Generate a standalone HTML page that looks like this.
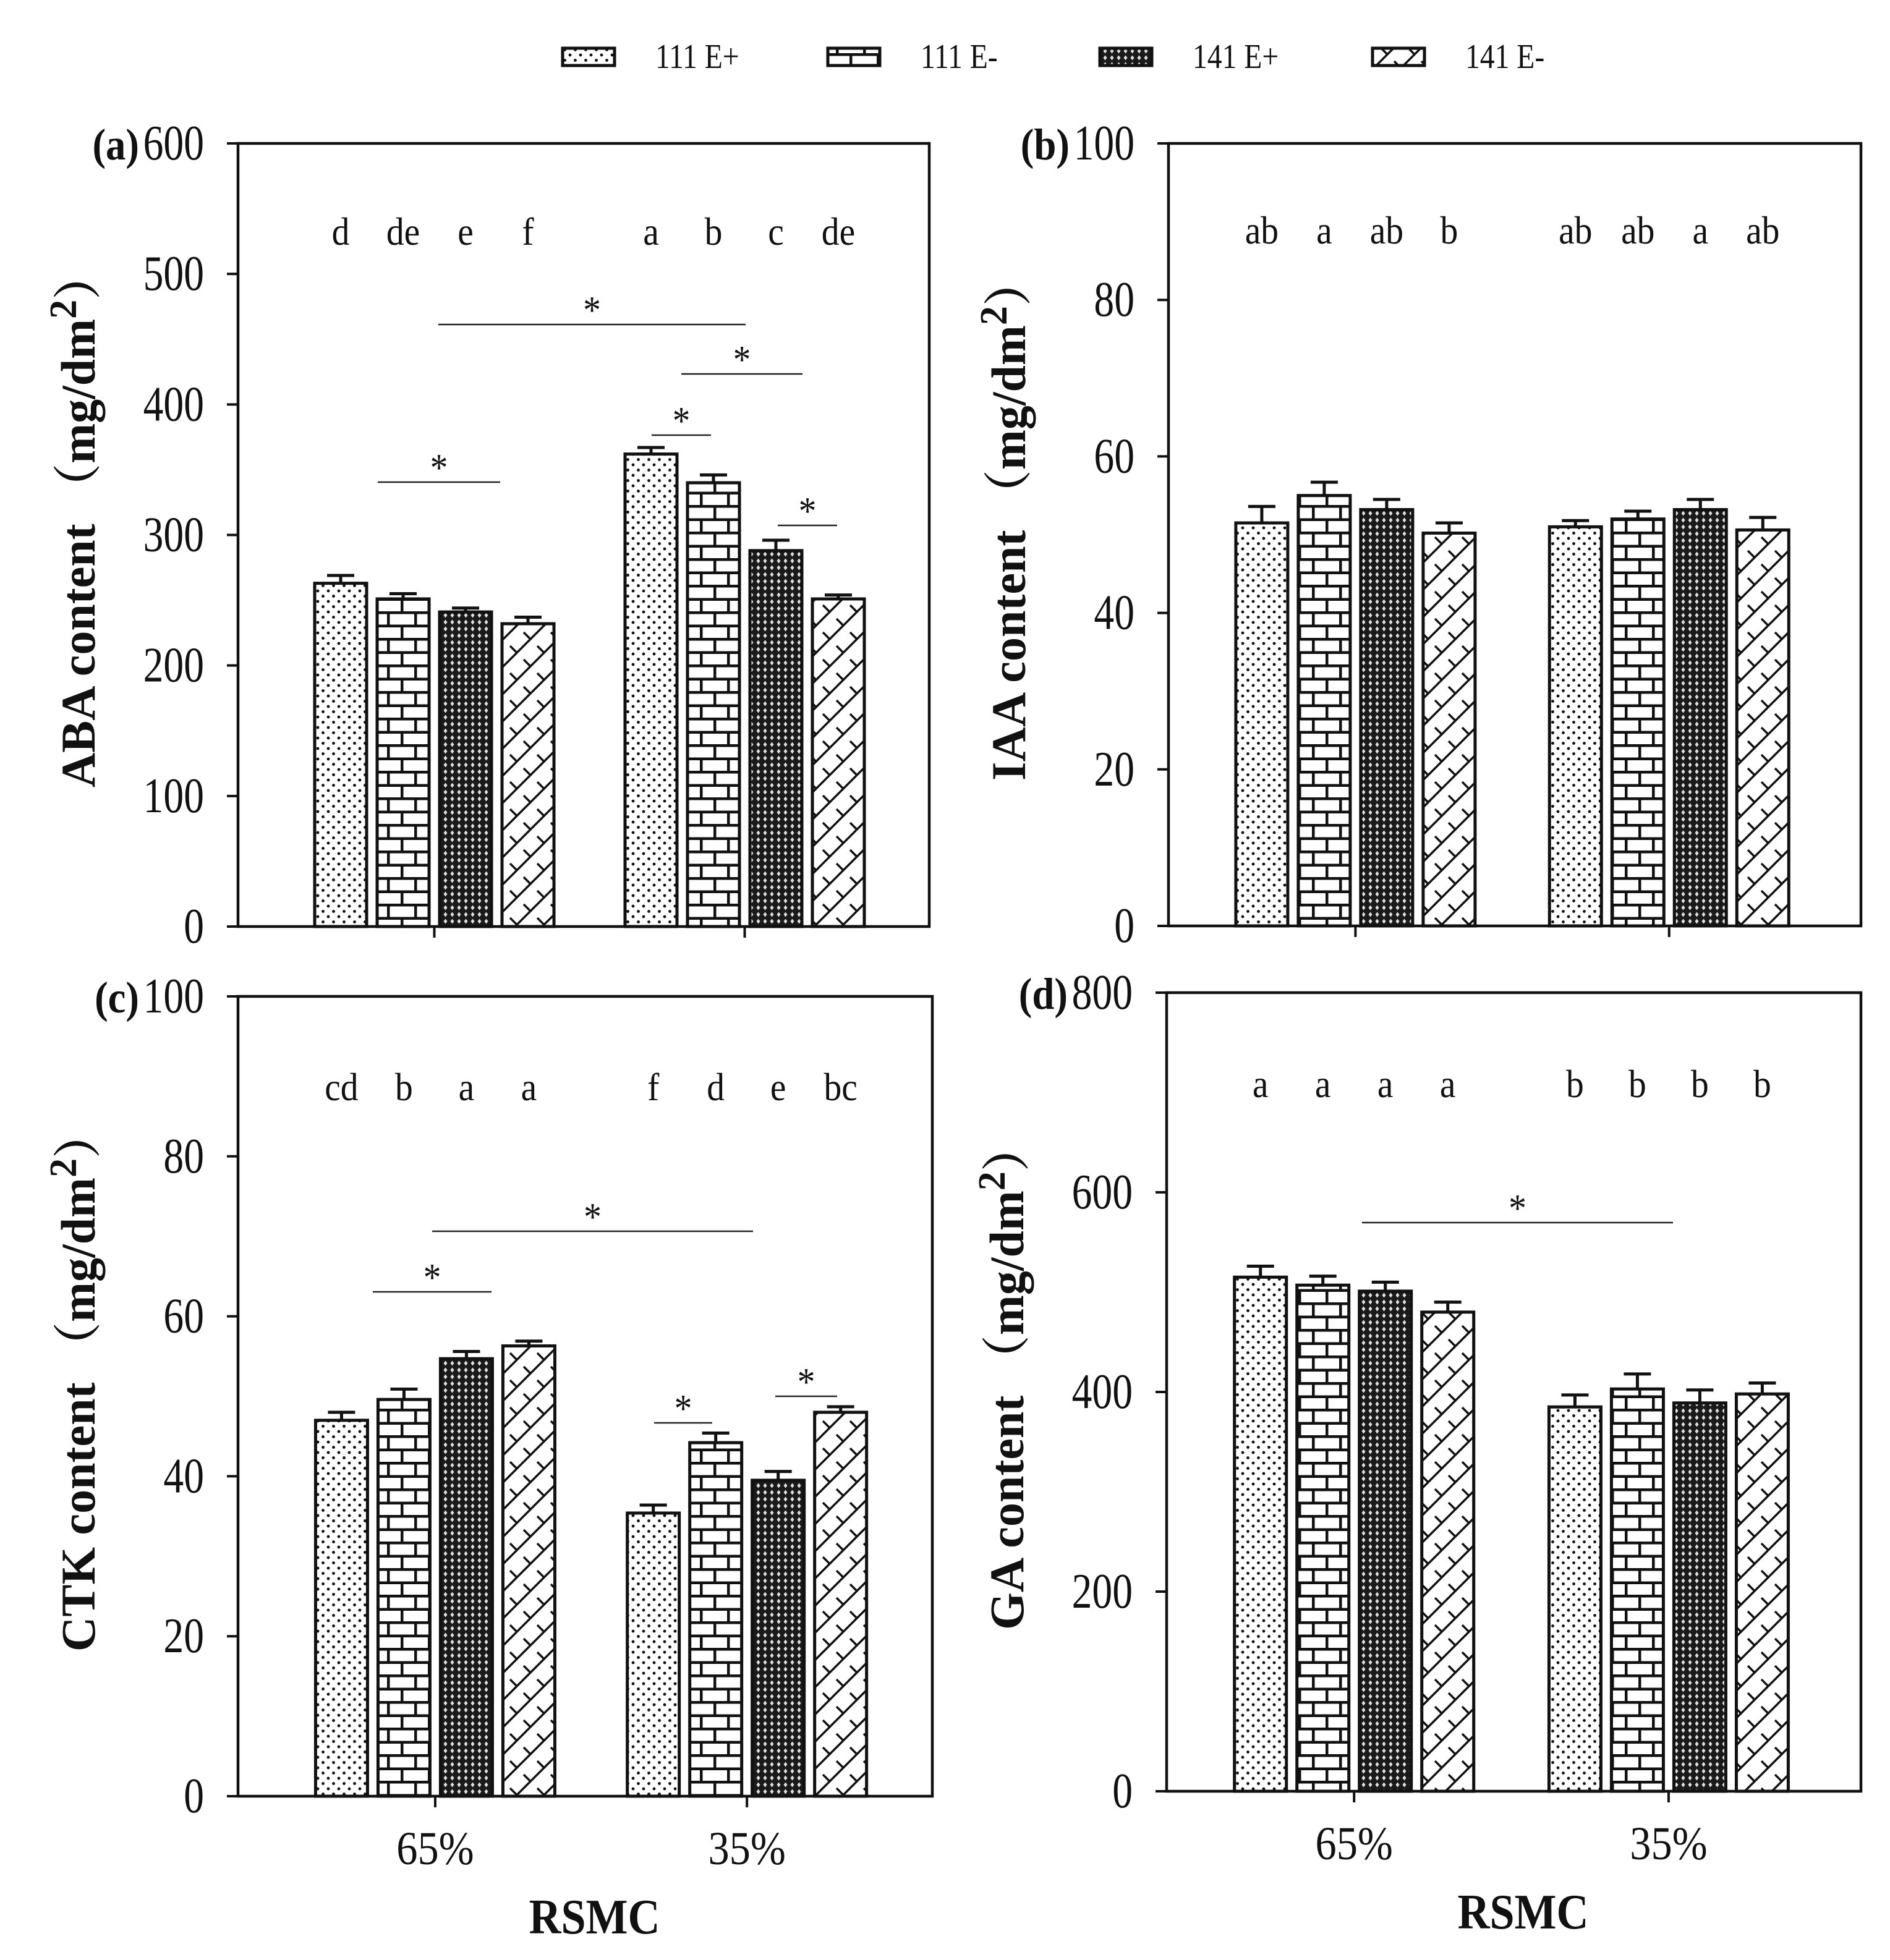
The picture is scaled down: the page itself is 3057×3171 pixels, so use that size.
<!DOCTYPE html>
<html><head><meta charset="utf-8"><style>
html,body{margin:0;padding:0;background:#fff;}
svg{display:block;}
text{font-family:"Liberation Serif","Noto Serif CJK SC",serif;fill:#111;}
</style></head><body>
<svg id="fig" width="3057" height="3171" viewBox="0 0 3057 3171" xmlns="http://www.w3.org/2000/svg">
<defs>
<pattern id="pDots" patternUnits="userSpaceOnUse" width="17" height="17">
<rect width="17" height="17" fill="#fff"/><circle cx="4" cy="4" r="2.4" fill="#111"/><circle cx="12.5" cy="12.5" r="2.4" fill="#111"/>
</pattern>
<pattern id="pBrick" patternUnits="userSpaceOnUse" width="44" height="43">
<rect width="44" height="43" fill="#fff"/>
<rect x="0" y="0" width="44" height="4.5" fill="#111"/><rect x="0" y="21.5" width="44" height="4.5" fill="#111"/>
<rect x="10" y="0" width="4.5" height="22" fill="#111"/><rect x="32" y="21.5" width="4.5" height="22" fill="#111"/>
</pattern>
<pattern id="pCross" patternUnits="userSpaceOnUse" width="11" height="11">
<rect width="11" height="11" fill="#1a1a1a"/><path d="M5.5 1.5 L8.5 5.5 L5.5 9.5 L2.5 5.5 Z" fill="#e0e0e0"/>
</pattern>
<pattern id="pZig" patternUnits="userSpaceOnUse" width="44" height="44">
<rect width="44" height="44" fill="#fff"/>
<path d="M0 44 L44 0 M-22 22 L22 -22 M22 66 L66 22" stroke="#111" stroke-width="3.5" fill="none"/>
<path d="M11 11 L22 22 M33 33 L44 44 M-11 33 L0 44" stroke="#111" stroke-width="3.5" fill="none"/>
</pattern>
</defs>
</svg>
<script>
const categories = ['65%', '35%'];
const seriesNames = ['111 E+', '111 E-', '141 E+', '141 E-'];
const abaMeans65 = [263, 251, 241, 232];
const abaMeans35 = [362, 340, 288, 251];
const abaErr65 = [6, 4, 3, 5];
const abaErr35 = [5, 6, 8, 3];
const abaLetters65 = ['d', 'de', 'e', 'f'];
const abaLetters35 = ['a', 'b', 'c', 'de'];
const iaaMeans65 = [51.5, 55.0, 53.2, 50.2];
const iaaMeans35 = [51.0, 52.0, 53.2, 50.6];
const iaaErr65 = [2.1, 1.7, 1.3, 1.3];
const iaaErr35 = [0.8, 1.0, 1.3, 1.6];
const iaaLetters65 = ['ab', 'a', 'ab', 'b'];
const iaaLetters35 = ['ab', 'ab', 'a', 'ab'];
const ctkMeans65 = [47.0, 49.6, 54.7, 56.3];
const ctkMeans35 = [35.4, 44.2, 39.5, 48.0];
const ctkErr65 = [1.0, 1.3, 0.9, 0.6];
const ctkErr35 = [1.0, 1.2, 1.1, 0.7];
const ctkLetters65 = ['cd', 'b', 'a', 'a'];
const ctkLetters35 = ['f', 'd', 'e', 'bc'];
const gaMeans65 = [515, 507, 501, 480];
const gaMeans35 = [385, 403, 389, 398];
const gaErr65 = [11, 9, 9, 10];
const gaErr35 = [12, 15, 13, 11];
const gaLetters65 = ['a', 'a', 'a', 'a'];
const gaLetters35 = ['b', 'b', 'b', 'b'];
const abaTicks = [0, 100, 200, 300, 400, 500, 600];
const iaaTicks = [0, 20, 40, 60, 80, 100];
const ctkTicks = [0, 20, 40, 60, 80, 100];
const gaTicks = [0, 200, 400, 600, 800];

const NS = 'http://www.w3.org/2000/svg';
const svg = document.getElementById('fig');
const patterns = ['url(#pDots)', 'url(#pBrick)', 'url(#pCross)', 'url(#pZig)'];
const SX = 0.9;

function mk(tag, attrs, parent) {
  const e = document.createElementNS(NS, tag);
  for (const k in attrs) e.setAttribute(k, attrs[k]);
  (parent || svg).appendChild(e);
  return e;
}
function txt(parent, x, y, s, size, anchor, bold, sx) {
  const t = mk('text', {transform: `translate(${x},${y}) scale(${sx || SX},1)`, 'font-size': size, 'text-anchor': anchor || 'middle'}, parent);
  if (bold) t.setAttribute('font-weight', 'bold');
  t.textContent = s;
  return t;
}

const panels = [
  {id: 'aba', label: '(a)', name: 'ABA', x0: 385, x1: 1503, y0: 232, y1: 1499, max: 600, ticks: abaTicks, fr: [0.284, 0.733],
   m: [abaMeans65, abaMeans35], e: [abaErr65, abaErr35], l: [abaLetters65, abaLetters35], letY: 396, xlab: false,
   sig: [[611, 809, 780], [709, 1206, 525], [1102, 1298, 605], [1054, 1150, 704], [1258, 1354, 850]]},
  {id: 'iaa', label: '(b)', name: 'IAA', x0: 1890, x1: 3010, y0: 232, y1: 1498, max: 100, ticks: iaaTicks, fr: [0.27, 0.723],
   m: [iaaMeans65, iaaMeans35], e: [iaaErr65, iaaErr35], l: [iaaLetters65, iaaLetters35], letY: 394, xlab: false, sig: []},
  {id: 'ctk', label: '(c)', name: 'CTK', x0: 385, x1: 1508, y0: 1612, y1: 2906, max: 100, ticks: ctkTicks, fr: [0.284, 0.733],
   m: [ctkMeans65, ctkMeans35], e: [ctkErr65, ctkErr35], l: [ctkLetters65, ctkLetters35], letY: 1780, xlab: true,
   sig: [[603, 795, 2090], [699, 1218, 1992], [1058, 1152, 2302], [1254, 1354, 2259]]},
  {id: 'ga', label: '(d)', name: 'GA', x0: 1887, x1: 3010, y0: 1606, y1: 2898, max: 800, ticks: gaTicks, fr: [0.27, 0.723],
   m: [gaMeans65, gaMeans35], e: [gaErr65, gaErr35], l: [gaLetters65, gaLetters35], letY: 1775, xlab: true,
   sig: [[2203, 2706, 1978]]}
];

const BW = 84, PITCH = 101;
panels.forEach(p => {
  const g = mk('g', {});
  
  
  const yS = v => p.y1 - v / p.max * (p.y1 - p.y0);
  const xS = c => p.x0 + (p.x1 - p.x0) * p.fr[c];
  categories.forEach((cat, ci) => {
    p.m[ci].forEach((v, si) => {
      const cx = xS(ci) + (si - 1.5) * PITCH;
      const top = yS(v), ee = yS(v + p.e[ci][si]);
      const er = mk('path', {d: `M${cx} ${top} L${cx} ${ee} M${cx - 22} ${ee} L${cx + 22} ${ee}`, stroke: '#111', 'stroke-width': 5, fill: 'none'}, g);
      
      
      const r = mk('rect', {x: cx - BW / 2, y: top, width: BW, height: yS(0) - top, fill: patterns[si], stroke: '#111', 'stroke-width': 5}, g);
      
      
      const lt = txt(g, cx, p.letY, p.l[ci][si], 64, 'middle');
      
      
    });
    const tk = mk('line', {x1: xS(ci), x2: xS(ci), y1: p.y1, y2: p.y1 + 18, stroke: '#111', 'stroke-width': 4}, g);
    
    
    if (p.xlab) {
      const xl = txt(g, xS(ci), p.y1 + 110, cat, 76, 'middle');
      
      
    }
  });
  const fr = mk('rect', {x: p.x0, y: p.y0, width: p.x1 - p.x0, height: p.y1 - p.y0, fill: 'none', stroke: '#111', 'stroke-width': 4.5}, g);
  
  
  p.ticks.forEach(t => {
    const y = yS(t);
    const tl = mk('line', {x1: p.x0 - 18, x2: p.x0, y1: y, y2: y, stroke: '#111', 'stroke-width': 4}, g);
    
    
    const lb = txt(g, p.x0 - 55, y + 26, String(t), 80, 'end', false, 0.82);
    
    
  });
  const pl = txt(g, p.x0 - 55 - String(p.max).length * 33 - 6, p.y0 + 26, p.label, 72, 'end', true);
  
  
  const cy = (p.y0 + p.y1) / 2 - 25;
  const tx = p.x0 - 232;
  const yt = mk('text', {transform: `translate(${tx},${cy}) rotate(-90)`, 'font-size': 78, 'font-weight': 'bold', 'text-anchor': 'middle'}, g);
  
  
  yt.innerHTML = `${p.name} content （mg/dm<tspan font-size="62" dy="-30">2</tspan><tspan dy="30">）</tspan>`;
  p.sig.forEach(s => {
    const ln = mk('line', {x1: s[0], x2: s[1], y1: s[2], y2: s[2], stroke: '#222', 'stroke-width': 2.5}, g);
    
    
    const st = txt(g, (s[0] + s[1]) / 2, s[2] - 2, '*', 64, 'middle');
    
    
  });
  if (p.xlab) {
    const xt = txt(g, (p.x0 + p.x1) / 2 + 15, p.y1 + 222, 'RSMC', 80, 'middle', true);
    
    
  }
});

const legX = [910, 1339, 1779, 2220];
const lg = mk('g', {});


seriesNames.forEach((n, i) => {
  const sw = mk('rect', {x: legX[i], y: 78, width: 84, height: 28, fill: patterns[i], stroke: '#111', 'stroke-width': 5}, lg);
  
  
  const lt = txt(lg, legX[i] + 150, 110, n, 56, 'start', false, 0.85);
  
  
});
</script>
</body></html>
